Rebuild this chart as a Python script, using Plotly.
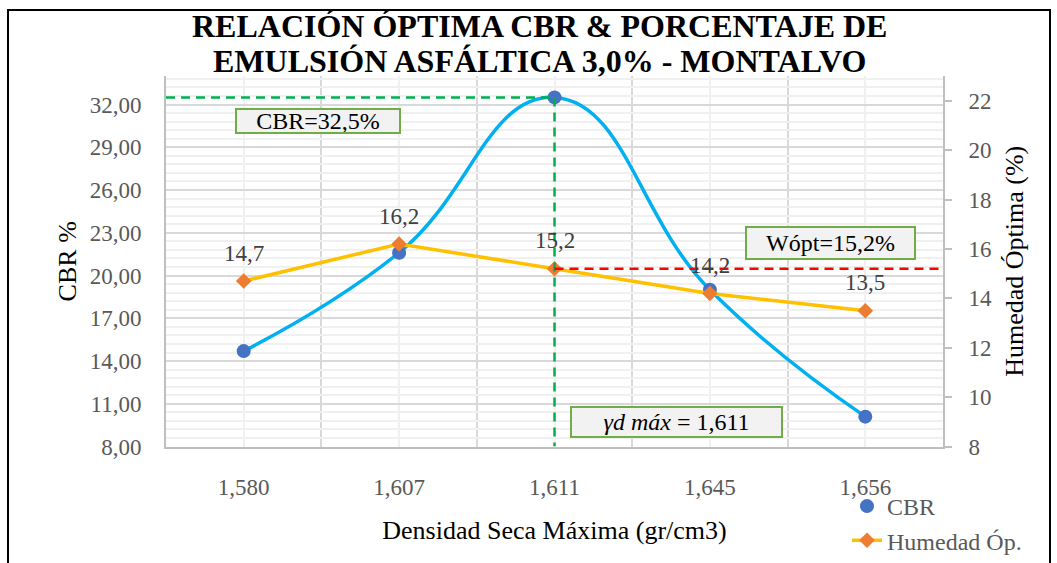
import plotly.graph_objects as go

# Densidad seca máxima (gr/cm3) for each trial point
densidad = [1.580, 1.607, 1.611, 1.645, 1.656]
# CBR (%) and humedad óptima (%) at each point
cbr = [14.7, 21.6, 32.5, 19.0, 10.1]
humedad = [14.7, 16.2, 15.2, 14.2, 13.5]

# optimum values
cbr_max = 32.5
w_opt = 15.2
idx_opt = 2  # position of 1,611 on the category axis

left_ticks = [8, 11, 14, 17, 20, 23, 26, 29, 32]
right_ticks = [8, 10, 12, 14, 16, 18, 20, 22]

W, H = 1057, 563
ML, MR, MT, MB = 166, 114, 76, 0
PLOT_BOTTOM = 452  # pixel row of the x axis


def px_x(x):
    return (x - ML) / (W - ML - MR)


def px_y(y):
    return (H - MB - y) / (H - MT - MB)


def coma(v, dec):
    return f"{v:.{dec}f}".replace(".", ",")


FONT = "Liberation Serif"
GRAY = "#595959"
xs = list(range(len(densidad)))

fig = go.Figure()

# smooth CBR curve
fig.add_trace(go.Scatter(
    x=xs, y=cbr, mode="lines", line=dict(color="#00b0f0", width=3.5, shape="spline", smoothing=1.3),
    showlegend=False, hoverinfo="skip", yaxis="y"))
# CBR points
fig.add_trace(go.Scatter(
    x=xs, y=cbr, mode="markers", name="CBR",
    marker=dict(color="#4472c4", size=14, symbol="circle"), yaxis="y"))
# humedad óptima on the secondary axis
fig.add_trace(go.Scatter(
    x=xs, y=humedad, mode="lines+markers", name="Humedad Óp.",
    line=dict(color="#ffc000", width=3.5),
    marker=dict(color="#ed7d31", size=12, symbol="diamond"), yaxis="y2"))

# data labels for humedad
for i, h in enumerate(humedad):
    fig.add_annotation(x=xs[i], y=h, xref="x", yref="y2", text=coma(h, 1), showarrow=False,
                       yshift=28, font=dict(family=FONT, size=23, color="#404040"))

# optimum guide lines
dash = "9px,6px"
fig.add_shape(type="line", xref="x", yref="y", x0=-0.5, x1=xs[idx_opt], y0=cbr_max, y1=cbr_max,
              line=dict(color="#00b050", width=2.5, dash=dash))
fig.add_shape(type="line", xref="x", yref="y", x0=xs[idx_opt], x1=xs[idx_opt], y0=cbr_max, y1=8,
              line=dict(color="#00b050", width=2.5, dash=dash))
fig.add_shape(type="line", xref="x", yref="y2", x0=xs[idx_opt], x1=4.5, y0=w_opt, y1=w_opt,
              line=dict(color="#ff0000", width=2.5, dash=dash))

# boxed callouts
box = dict(showarrow=False, xref="paper", yref="paper", xanchor="center", yanchor="middle",
           bgcolor="#f2f2f2", bordercolor="#70ad47", borderwidth=2, borderpad=0,
           font=dict(family=FONT, size=24, color="#000000"))
fig.add_annotation(text=f"CBR={coma(cbr_max, 1)}%", x=px_x(318), y=px_y(122),
                   width=162, height=22, **box)
fig.add_annotation(text=f"Wópt={coma(w_opt, 1)}%", x=px_x(830), y=px_y(245),
                   width=167, height=30, **box)
fig.add_annotation(text=f"<i>γd máx</i> = {coma(densidad[idx_opt], 3)}", x=px_x(676), y=px_y(427),
                   width=209, height=28, **box)

# outer chart border
fig.add_shape(type="rect", xref="paper", yref="paper", x0=px_x(8), x1=px_x(1050),
              y0=px_y(600), y1=px_y(9),
              line=dict(color="#000000", width=2), fillcolor="rgba(0,0,0,0)", layer="above")

# title, two lines
for txt, yy in [("RELACIÓN ÓPTIMA CBR &amp; PORCENTAJE DE", 25),
                ("EMULSIÓN ASFÁLTICA 3,0% - MONTALVO", 61)]:
    fig.add_annotation(text=f"<b>{txt}</b>", x=px_x(539), y=px_y(yy), xref="paper", yref="paper",
                       showarrow=False, xanchor="center", yanchor="middle",
                       font=dict(family=FONT, size=32, color="#000000"))

fig.update_layout(
    width=W, height=H,
    margin=dict(l=ML, r=MR, t=MT, b=MB),
    paper_bgcolor="white", plot_bgcolor="white",
    separators=",.",
    font=dict(family=FONT, size=23, color=GRAY),
    xaxis=dict(
        range=[-0.5, 4.5], tickmode="array", tickvals=xs,
        ticktext=[coma(d, 3) for d in densidad],
        showgrid=True, gridcolor="#f0f0f0", gridwidth=2,
        minor=dict(tickmode="array", tickvals=[0.5, 1.5, 2.5, 3.5], showgrid=True,
                   gridcolor="#d9d9d9", gridwidth=2),
        showline=True, linecolor="#bfbfbf", linewidth=2, zeroline=False,
        ticks="", ticklabelstandoff=19, automargin=False,
        tickfont=dict(family=FONT, size=23, color=GRAY),
        title=dict(text="Densidad Seca Máxima (gr/cm3)", standoff=22,
                   font=dict(family=FONT, size=26, color="#000000")),
    ),
    yaxis=dict(
        domain=[px_y(PLOT_BOTTOM), 1],
        range=[8, 34], tickmode="array", tickvals=left_ticks, tickformat=".2f",
        showgrid=True, gridcolor="#d9d9d9", gridwidth=2,
        minor=dict(dtick=0.6, tick0=8, showgrid=True, gridcolor="#f0f0f0", gridwidth=2),
        showline=True, linecolor="#bfbfbf", linewidth=2, zeroline=False,
        ticks="", ticklabelstandoff=18, automargin=False,
        tickfont=dict(family=FONT, size=23, color=GRAY),
        title=dict(text="CBR %", standoff=6, font=dict(family=FONT, size=26, color="#000000")),
    ),
    yaxis2=dict(
        range=[8, 23], tickmode="array", tickvals=right_ticks, overlaying="y", side="right",
        showgrid=False, zeroline=False, showline=True, linecolor="#bfbfbf", linewidth=2,
        ticks="outside", ticklen=7, tickcolor="#bfbfbf", tickwidth=2, ticklabelstandoff=12,
        automargin=False,
        tickfont=dict(family=FONT, size=23, color=GRAY),
        title=dict(text="Humedad Óptima (%)", standoff=14,
                   font=dict(family=FONT, size=26, color="#000000")),
    ),
    legend=dict(x=px_x(847), y=px_y(490), xanchor="left", yanchor="top", bgcolor="rgba(0,0,0,0)",
                font=dict(family=FONT, size=24, color=GRAY), tracegroupgap=0),
    showlegend=True,
)

fig.write_html("out.html")
